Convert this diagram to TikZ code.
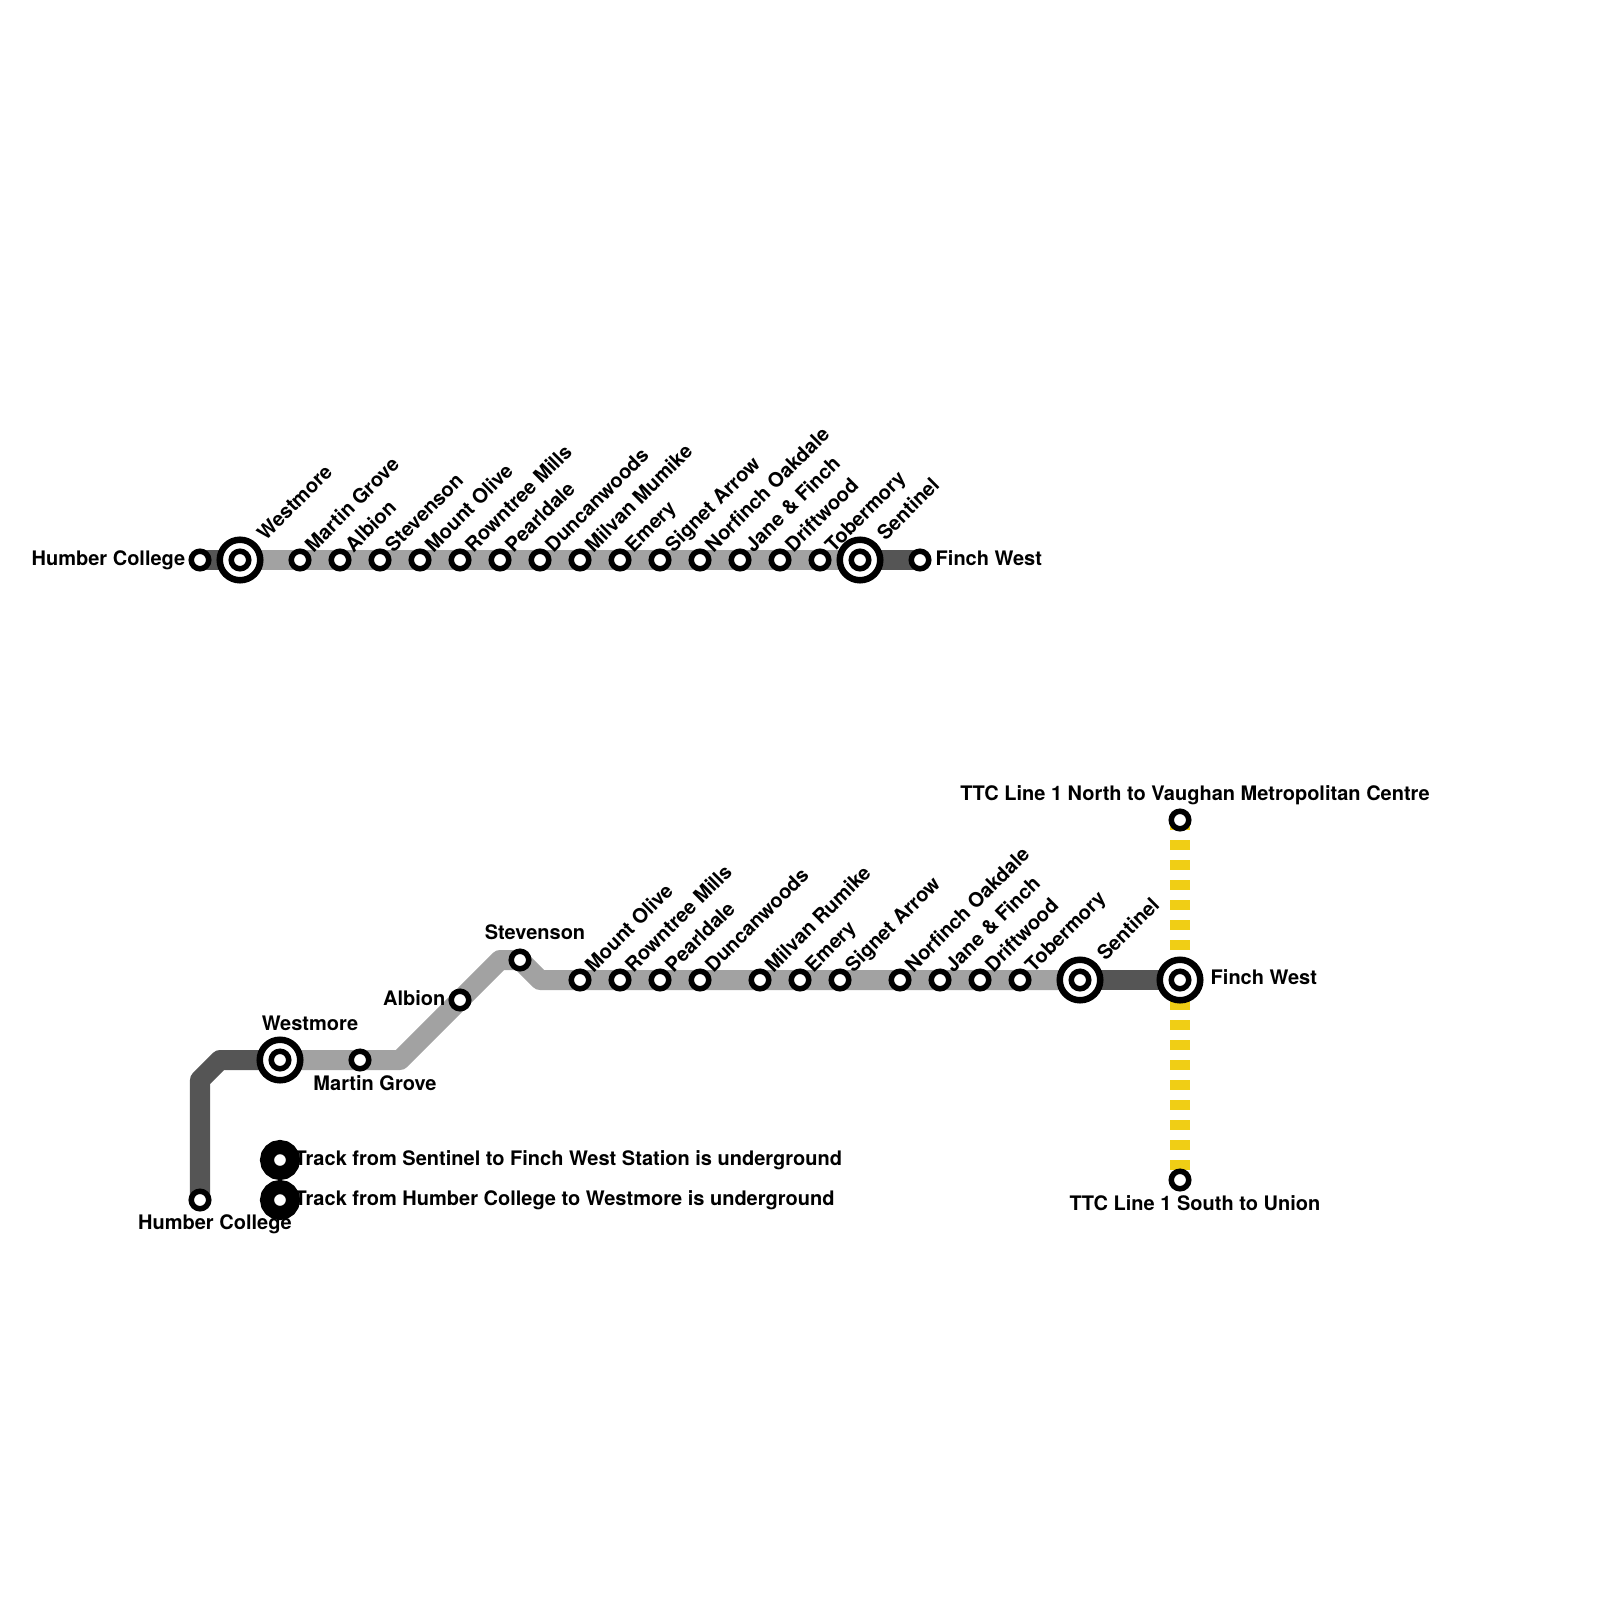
\documentclass[tikz,border=0pt]{standalone}
\usepackage{fontspec}
\setmainfont{TeX Gyre Heros}
\usepackage{tikz}
\usetikzlibrary{positioning}
\definecolor{tunnelgrey}{HTML}{555555}
\definecolor{surfacegrey}{HTML}{A2A2A2}
\definecolor{lineyellow}{HTML}{F0CE15}

\begin{document}
\begin{tikzpicture}[x=0.01cm,y=-0.01cm,font=\fontsize{5.69}{7}\selectfont\bfseries,
  tunnel/.style={draw=tunnelgrey,line width=2mm,line join=round},
  surface/.style={draw=surfacegrey,line width=2mm,line join=round},
  subwayline/.style={draw=lineyellow,line width=2mm,dash pattern=on 1mm off 1mm},
  station/.style={circle,draw=black,fill=white,line width=0.55mm,minimum size=1.75mm,inner sep=0pt},
  hubring/.style={circle,draw=black,fill=white,line width=0.65mm,minimum size=4.05mm,inner sep=0pt},
  legendmark/.style={circle,draw=black,fill=white,line width=1.4mm,minimum size=2.6mm,inner sep=0pt},
  lbl/.style={inner sep=0pt},
  slantlbl/.style={lbl,rotate=45,anchor=base west}]
  \useasboundingbox (0,0) rectangle (1600,1600);

  \coordinate (topHc) at (200,560);
  \coordinate (topWm) at (240,560);
  \coordinate (topSn) at (860,560);
  \coordinate (topFw) at (920,560);
  \draw[tunnel] (topHc) -- (topWm);
  \draw[surface] (topWm) -- (topSn);
  \draw[tunnel] (topSn) -- (topFw);

  \coordinate (botHc) at (200,1200);
  \coordinate (bendA) at (200,1080);
  \coordinate (bendB) at (220,1060);
  \coordinate (botWm) at (280,1060);
  \coordinate (bendC) at (400,1060);
  \coordinate (bendD) at (500,960);
  \coordinate (botSv) at (520,960);
  \coordinate (bendE) at (540,980);
  \coordinate (botSn) at (1080,980);
  \coordinate (botFw) at (1180,980);
  \coordinate (ttcN) at (1180,820);
  \coordinate (ttcS) at (1180,1180);
  \draw[subwayline] (ttcN) -- (ttcS);
  \draw[tunnel] (botHc) -- (bendA) -- (bendB) -- (botWm);
  \draw[surface] (botWm) -- (bendC) -- (bendD) -- (botSv) -- (bendE) -- (botSn);
  \draw[tunnel] (botSn) -- (botFw);

  % top row
  \node[station] (topHcS) at (topHc) {};
  \node[station] (topFwS) at (topFw) {};
  \node[hubring] at (topWm) {};
  \node[station] (topWmS) at (topWm) {};
  \node[hubring] at (topSn) {};
  \node[station] (topSnS) at (topSn) {};
  \node[lbl,anchor=base east] (topHcL) at (186,565) {Humber College};
  \node[lbl,anchor=base west] (topFwL) at (935,565) {Finch West};
  \node[slantlbl] (topWmL) at (265,542) {Westmore};
  \node[slantlbl] (topSnL) at (885,542) {Sentinel};
  \foreach \x/\nm/\txt in {300/a/Martin Grove,340/b/Albion,380/c/Stevenson,420/d/Mount Olive,
    460/e/Rowntree Mills,500/f/Pearldale,540/g/Duncanwoods,580/h/Milvan Mumike,620/i/Emery,
    660/j/Signet Arrow,700/k/Norfinch Oakdale,740/l/Jane \& Finch,780/m/Driftwood,820/n/Tobermory}{
    \node[station] (top\nm) at (\x,560) {};
    \node[slantlbl] (top\nm L) at (\x+13,553.5) {\txt};
  }

  % bottom row
  \node[station] (botHcS) at (botHc) {};
  \node[hubring] at (botWm) {};
  \node[station] (botWmS) at (botWm) {};
  \node[station] (botMg) at (360,1060) {};
  \node[station] (botAl) at (460,1000) {};
  \node[station] (botSvS) at (botSv) {};
  \node[hubring] at (botSn) {};
  \node[station] (botSnS) at (botSn) {};
  \node[hubring] at (botFw) {};
  \node[station] (botFwS) at (botFw) {};
  \node[station] (ttcNS) at (ttcN) {};
  \node[station] (ttcSS) at (ttcS) {};
  \foreach \x/\nm/\txt in {580/a/Mount Olive,620/b/Rowntree Mills,660/c/Pearldale,700/d/Duncanwoods,
    760/e/Milvan Rumike,800/f/Emery,840/g/Signet Arrow,900/h/Norfinch Oakdale,940/i/Jane \& Finch,
    980/j/Driftwood,1020/k/Tobermory}{
    \node[station] (bot\nm) at (\x,980) {};
    \node[slantlbl] (bot\nm L) at (\x+13,973.5) {\txt};
  }
  \node[slantlbl] (botSnL) at (1105,962) {Sentinel};

  \node[legendmark] (legendA) at (280,1160) {};
  \node[legendmark] (legendB) at (280,1200) {};

  \node[lbl,anchor=base] (botHcL) at (215,1229) {Humber College};
  \node[lbl,anchor=base] (botWmL) at (310,1030) {Westmore};
  \node[lbl,anchor=base] (botMgL) at (375,1090) {Martin Grove};
  \node[lbl,anchor=base east] (botAlL) at (446,1005) {Albion};
  \node[lbl,anchor=base] (botSvL) at (535,939.5) {Stevenson};
  \node[lbl,anchor=base west] (botFwL) at (1210,984.5) {Finch West};
  \node[lbl,anchor=base] (ttcNL) at (1195,800) {TTC Line 1 North to Vaughan Metropolitan Centre};
  \node[lbl,anchor=base] (ttcSL) at (1195,1210) {TTC Line 1 South to Union};
  \node[lbl,anchor=base west] (legendAL) at (294,1165) {Track from Sentinel to Finch West Station is underground};
  \node[lbl,anchor=base west] (legendBL) at (294,1205) {Track from Humber College to Westmore is underground};
\end{tikzpicture}
\end{document}
